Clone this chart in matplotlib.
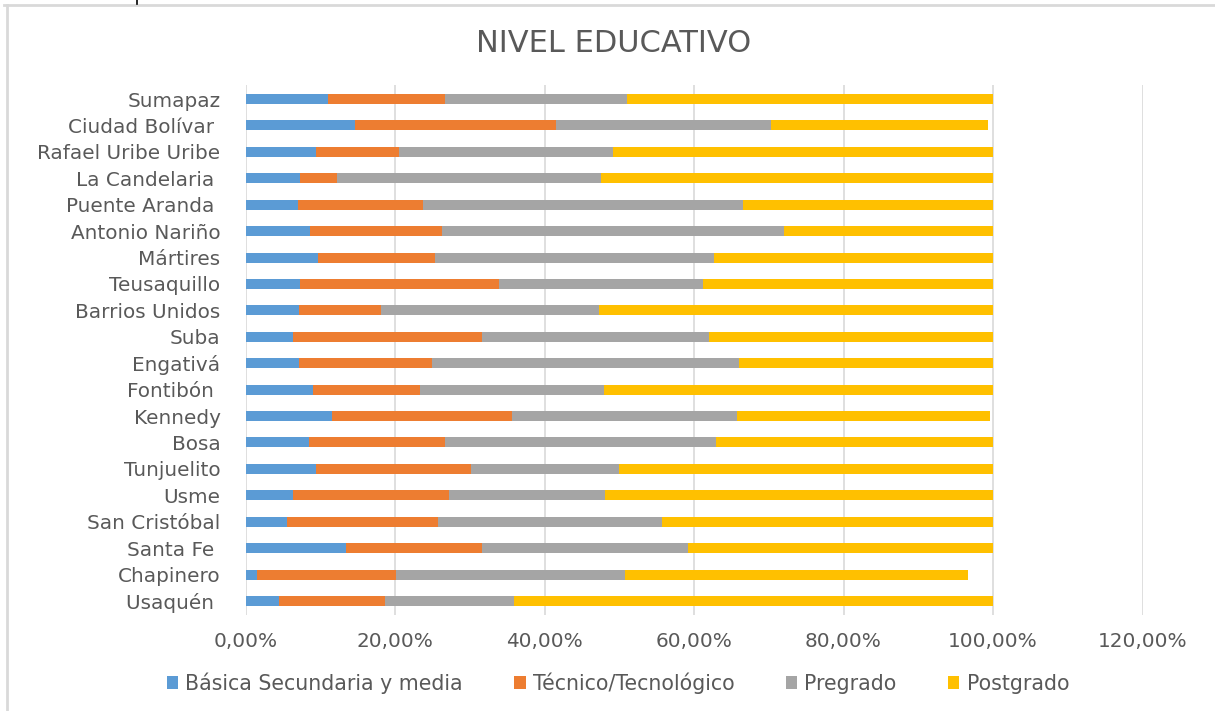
import matplotlib
matplotlib.use("Agg")
import matplotlib.pyplot as plt
from matplotlib.lines import Line2D
from matplotlib.ticker import FuncFormatter
import numpy as np

plt.rcParams['font.family'] = ['DejaVu Sans']

categories = ["Usaquén ", "Chapinero", "Santa Fe ", "San Cristóbal", "Usme",
              "Tunjuelito", "Bosa", "Kennedy", "Fontibón ", "Engativá",
              "Suba", "Barrios Unidos", "Teusaquillo", "Mártires",
              "Antonio Nariño", "Puente Aranda ", "La Candelaria ",
              "Rafael Uribe Uribe", "Ciudad Bolívar ", "Sumapaz"]

basica = [4.5, 1.6, 13.4, 5.5, 6.4, 9.4, 8.5, 11.6, 9.0, 7.2,
          6.4, 7.2, 7.3, 9.7, 8.6, 7.0, 7.3, 9.4, 14.7, 11.1]
tecnico = [14.2, 18.5, 18.3, 20.2, 20.8, 20.8, 18.2, 24.0, 14.3, 17.8,
           25.3, 10.9, 26.6, 15.7, 17.7, 16.7, 5.0, 11.1, 26.8, 15.6]
pregrado = [17.2, 30.7, 27.5, 30.0, 20.9, 19.7, 36.2, 30.1, 24.7, 41.0,
            30.3, 29.2, 27.3, 37.3, 45.7, 42.9, 35.2, 28.6, 28.8, 24.3]
postgrado = [64.1, 45.9, 40.8, 44.3, 51.9, 50.1, 37.1, 33.9, 52.0, 34.0,
             38.0, 52.7, 38.8, 37.3, 28.0, 33.4, 52.5, 50.9, 29.0, 49.0]

series_names = ["Básica Secundaria y media", "Técnico/Tecnológico", "Pregrado", "Postgrado"]
series_colors = ["#5B9BD5", "#ED7D31", "#A5A5A5", "#FFC000"]
x_ticks = [0, 0.2, 0.4, 0.6, 0.8, 1.0, 1.2]

W, H = 1215, 711
fig = plt.figure(figsize=(W / 100, H / 100), dpi=100)
fig.patch.set_facecolor("white")

ax = fig.add_axes([245.5 / W, (H - 615) / H, 897 / W, 530 / H])

y = np.arange(len(categories))
left = np.zeros(len(categories))
handles = []
for name, vals, col in zip(series_names, [basica, tecnico, pregrado, postgrado], series_colors):
    v = np.array(vals) / 100.0
    ax.barh(y, v, left=left, height=0.38, color=col, linewidth=0, zorder=3, label=name)
    left = left + v
    handles.append(plt.Rectangle((0, 0), 1, 1, facecolor=col, edgecolor="none"))

ax.set_xlim(0, 1.2)
ax.set_ylim(-0.53, len(categories) - 0.47)
ax.set_xticks(x_ticks)
ax.xaxis.set_major_formatter(FuncFormatter(lambda v, p: f"{v*100:.2f}%".replace(".", ",")))
ax.set_yticks(y)
ax.set_yticklabels(categories)

for s in ax.spines.values():
    s.set_visible(False)
ax.grid(axis="x", color="#d9d9d9", linewidth=1.2, zorder=0)
ax.tick_params(axis="both", length=0, labelsize=14.4, labelcolor="#595959")
ax.tick_params(axis="y", pad=18)
ax.tick_params(axis="x", pad=12)

fig.text(614 / W, 1 - 52 / H, "NIVEL EDUCATIVO", ha="center", va="baseline",
         fontsize=22, color="#595959")

fig.legend(handles, series_names, loc="center", bbox_to_anchor=(618 / W, 1 - 683 / H),
           ncol=4, frameon=False, fontsize=14.8, labelcolor="#595959",
           handlelength=0.55, handleheight=0.55, handletextpad=0.35, columnspacing=2.5)

# outer frame
fig.add_artist(Line2D([4 / W, 1], [1 - 5 / H, 1 - 5 / H], color="#d9d9d9", linewidth=2, transform=fig.transFigure))
fig.add_artist(Line2D([7 / W, 7 / W], [1 - 5 / H, 0], color="#d9d9d9", linewidth=2, transform=fig.transFigure))
fig.add_artist(Line2D([137 / W, 137 / W], [1, 1 - 4 / H], color="black", linewidth=1.2, transform=fig.transFigure))

fig.savefig("out.png", dpi=100)
